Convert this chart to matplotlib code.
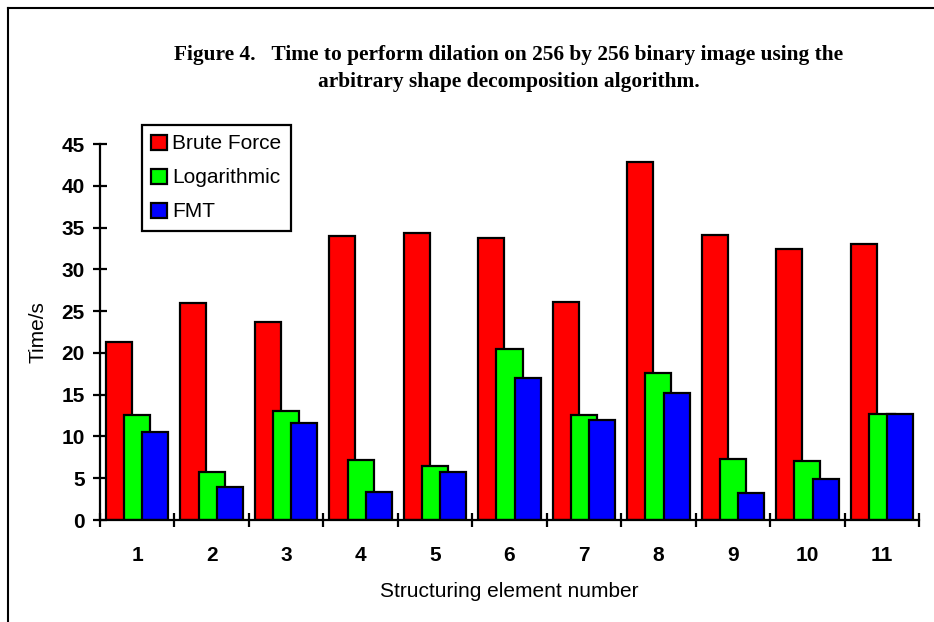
import matplotlib
matplotlib.use("Agg")
import matplotlib.pyplot as plt
from matplotlib.lines import Line2D
import numpy as np

categories = ["1", "2", "3", "4", "5", "6", "7", "8", "9", "10", "11"]
series_names = ["Brute Force", "Logarithmic", "FMT"]
brute_force = [21.3, 26.0, 23.7, 34.0, 34.4, 33.7, 26.1, 42.9, 34.1, 32.4, 33.0]
logarithmic = [12.6, 5.8, 13.1, 7.2, 6.5, 20.5, 12.6, 17.6, 7.3, 7.1, 12.7]
fmt = [10.5, 4.0, 11.6, 3.4, 5.7, 17.0, 12.0, 15.2, 3.2, 4.9, 12.7]
colors = ["#ff0000", "#00ff00", "#0000ff"]
yticks = [0, 5, 10, 15, 20, 25, 30, 35, 40, 45]

W, H = 934, 622
fig = plt.figure(figsize=(W / 100, H / 100), dpi=100)
ax = fig.add_axes([100 / W, 1 - 520 / H, (919 - 100) / W, (520 - 144) / H])

x = np.arange(len(categories))
offsets = [-0.245, 0.0, 0.245]
width = 0.35
for i, (vals, c, name) in enumerate(zip([brute_force, logarithmic, fmt], colors, series_names)):
    ax.bar(x + offsets[i], vals, width, color=c, edgecolor="black", linewidth=1.6,
           label=name, zorder=2 + i)

ax.set_xlim(-0.5, len(categories) - 0.5)
ax.set_ylim(0, 45)
ax.set_yticks(yticks)
ax.set_yticklabels([str(t) for t in yticks], fontsize=15, fontweight="bold", family="Liberation Sans")
ax.set_xticks(x)
ax.set_xticklabels(categories, fontsize=15, fontweight="bold", family="Liberation Sans")
ax.tick_params(axis="x", which="major", length=0, pad=19)
ax.set_xticks(np.arange(len(categories) + 1) - 0.5, minor=True)
ax.tick_params(axis="x", which="minor", length=10, width=1.6, direction="inout")
ax.tick_params(axis="y", which="major", length=10, width=1.6, direction="inout", pad=6)

for s in ["top", "right"]:
    ax.spines[s].set_visible(False)
for s in ["left", "bottom"]:
    ax.spines[s].set_linewidth(1.6)
    ax.spines[s].set_zorder(10)

ax.set_ylabel("Time/s", fontsize=15, family="Liberation Sans", labelpad=10)
ax.set_xlabel("Structuring element number", fontsize=15, family="Liberation Sans", labelpad=12)

leg = ax.legend(loc="upper left", bbox_to_anchor=(142 / W, 1 - 125 / H),
                bbox_transform=fig.transFigure, fancybox=False, framealpha=1,
                edgecolor="black", prop={"family": "Liberation Sans", "size": 15},
                handlelength=0.75, handleheight=0.72, handletextpad=0.25,
                labelspacing=0.72, borderpad=0.45, borderaxespad=0)
leg.get_frame().set_linewidth(1.6)

fig.text(509 / W, 1 - 55 / H,
         "Figure 4.   Time to perform dilation on 256 by 256 binary image using the",
         ha="center", va="center", fontsize=15.4, fontweight="bold", family="Liberation Serif")
fig.text(509 / W, 1 - 82 / H, "arbitrary shape decomposition algorithm.",
         ha="center", va="center", fontsize=15.4, fontweight="bold", family="Liberation Serif")

# figure frame (left and top borders)
fig.add_artist(Line2D([8 / W, 8 / W], [0, 1 - 8 / H], transform=fig.transFigure, color="black", lw=1.5))
fig.add_artist(Line2D([8 / W, 1], [1 - 8 / H, 1 - 8 / H], transform=fig.transFigure, color="black", lw=1.5))

fig.savefig("out.png", dpi=100)
